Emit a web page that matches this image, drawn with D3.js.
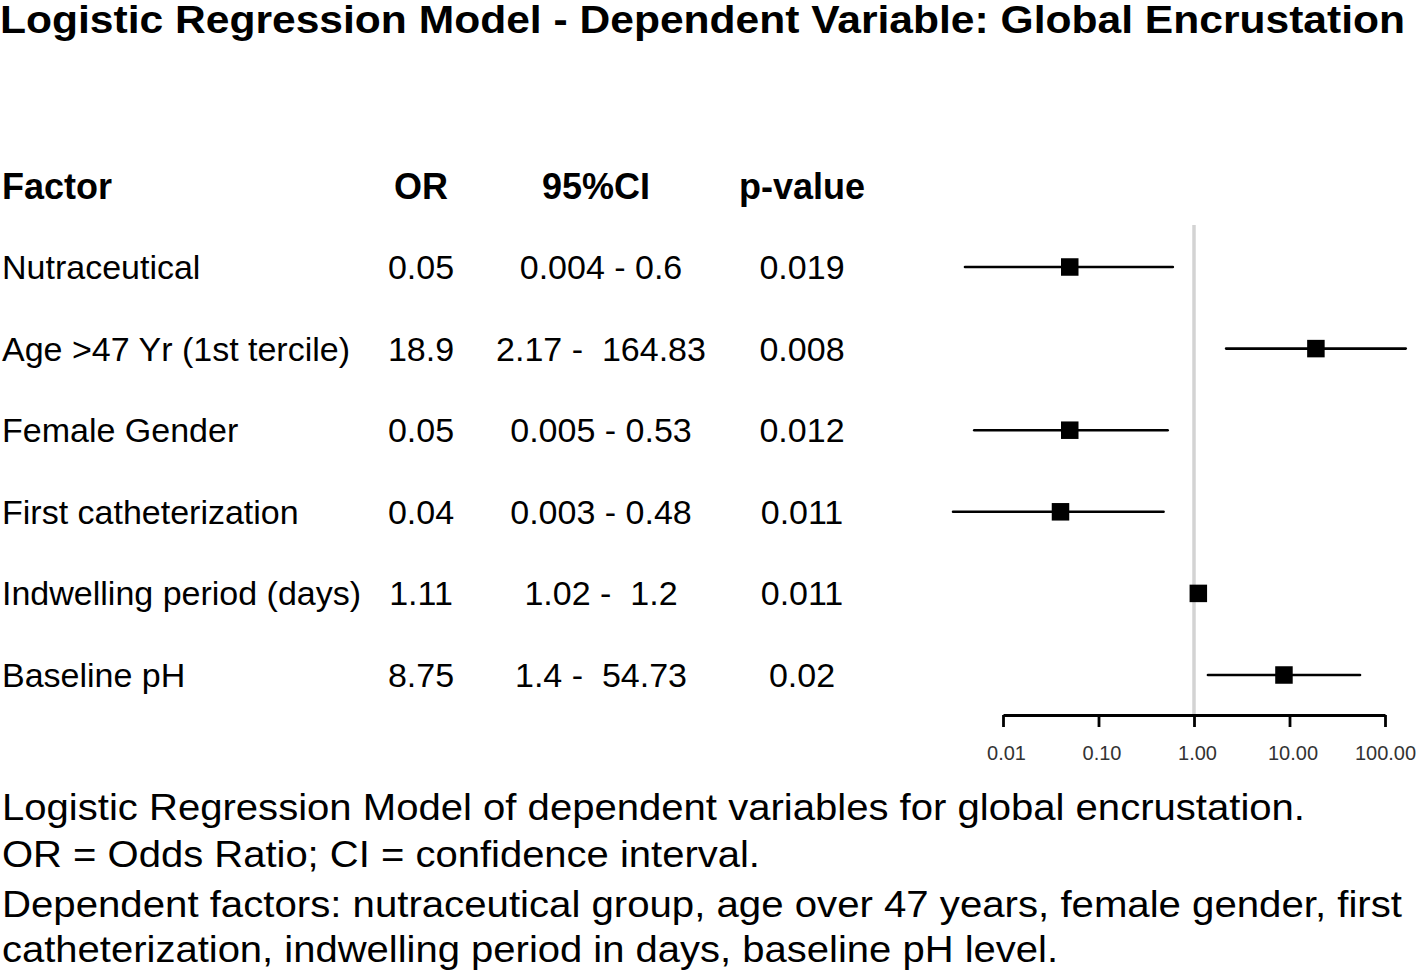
<!DOCTYPE html>
<html>
<head>
<meta charset="utf-8">
<script src="https://cdn.jsdelivr.net/npm/d3@7"></script>
<style>
  html, body { margin: 0; padding: 0; background: #fff; }
  svg { display: block; font-family: "Liberation Sans", Arial, sans-serif; }
</style>
</head>
<body>
<svg id="chart" width="1418" height="973"></svg>
<script>
// ---- data ----
const factors = ["Nutraceutical", "Age >47 Yr (1st tercile)", "Female Gender", "First catheterization", "Indwelling period (days)", "Baseline pH"];
const oddsRatios = [0.05, 18.9, 0.05, 0.04, 1.11, 8.75];
const ciLow = [0.004, 2.17, 0.005, 0.003, 1.02, 1.4];
const ciHigh = [0.6, 164.83, 0.53, 0.48, 1.2, 54.73];
const ciLabels = ["0.004 - 0.6", "2.17 -  164.83", "0.005 - 0.53", "0.003 - 0.48", "1.02 -  1.2", "1.4 -  54.73"];
const pValues = ["0.019", "0.008", "0.012", "0.011", "0.011", "0.02"];
const headers = ["Factor", "OR", "95%CI", "p-value"];
const axisTicks = [0.01, 0.1, 1, 10, 100];
const axisTickLabels = ["0.01", "0.10", "1.00", "10.00", "100.00"];
const titleText = "Logistic Regression Model - Dependent Variable: Global Encrustation";
const footnotes = [
  "Logistic Regression Model of dependent variables for global encrustation.",
  "OR = Odds Ratio; CI = confidence interval.",
  "Dependent factors: nutraceutical group, age over 47 years, female gender, first",
  "catheterization, indwelling period in days, baseline pH level."
];

const svg = d3.select("#chart");

// title
svg.append("text")
  .attr("x", 0).attr("y", 33)
  .attr("font-size", 38).attr("font-weight", "bold")
  .attr("textLength", 1405).attr("lengthAdjust", "spacingAndGlyphs")
  .text(titleText);

// scales
const x = d3.scaleLog().domain([0.01, 100]).range([1003, 1385]);
const y = d3.scalePoint().domain(factors).range([267, 675]);

// table headers
const colX = { factor: 2, or: 421, ci: 601, p: 802 };
const headerY = 199;
const hdr = svg.append("g").attr("font-size", 36).attr("font-weight", "bold");
hdr.append("text").attr("x", colX.factor).attr("y", headerY).text(headers[0]);
hdr.append("text").attr("x", colX.or).attr("y", headerY).attr("text-anchor", "middle").text(headers[1]);
hdr.append("text").attr("x", 596).attr("y", headerY).attr("text-anchor", "middle").text(headers[2]);
hdr.append("text").attr("x", colX.p).attr("y", headerY).attr("text-anchor", "middle").text(headers[3]);

// table rows
const rows = svg.append("g").attr("font-size", 34).style("white-space", "pre");
factors.forEach((f, i) => {
  const by = y(f) + 12;
  rows.append("text").attr("x", colX.factor).attr("y", by).text(f);
  rows.append("text").attr("x", colX.or).attr("y", by).attr("text-anchor", "middle").text(String(oddsRatios[i]));
  rows.append("text").attr("x", colX.ci).attr("y", by).attr("text-anchor", "middle").attr("xml:space", "preserve").text(ciLabels[i]);
  rows.append("text").attr("x", colX.p).attr("y", by).attr("text-anchor", "middle").text(pValues[i]);
});

// reference line at OR = 1
svg.append("line")
  .attr("x1", x(1)).attr("x2", x(1))
  .attr("y1", 225).attr("y2", 715)
  .attr("stroke", "#d3d3d3").attr("stroke-width", 3.5);

// CI lines
svg.append("g").selectAll("line")
  .data(factors)
  .join("line")
  .attr("x1", (d, i) => x(ciLow[i]))
  .attr("x2", (d, i) => x(ciHigh[i]))
  .attr("y1", d => y(d)).attr("y2", d => y(d))
  .attr("stroke", "#000").attr("stroke-width", 2.6)
  .attr("stroke-linecap", "round");

// point markers
const sq = 17.5;
svg.append("g").selectAll("rect")
  .data(factors)
  .join("rect")
  .attr("x", (d, i) => x(oddsRatios[i]) - sq / 2)
  .attr("y", d => y(d) - sq / 2)
  .attr("width", sq).attr("height", sq)
  .attr("fill", "#000");

// axis
const axis = d3.axisBottom(x)
  .tickValues(axisTicks)
  .tickFormat((d, i) => axisTickLabels[i])
  .tickSize(12)
  .tickSizeOuter(0)
  .tickPadding(19);
const ax = svg.append("g").attr("transform", "translate(0,715)").call(axis);
ax.select(".domain").attr("stroke", "#000").attr("stroke-width", 2.8);
ax.selectAll(".tick line").attr("stroke", "#000").attr("stroke-width", 2.8);
ax.selectAll(".tick text")
  .attr("font-size", 20)
  .attr("font-family", "Liberation Sans, Arial, sans-serif")
  .attr("fill", "#333")
  .attr("dx", (d, i) => i === axisTicks.length - 1 ? 0 : 3);

// footnotes
const footBase = [820, 867, 917, 962];
const footWidths = [1303, 758, 1400, 1056];
footnotes.forEach((t, i) => {
  svg.append("text")
    .attr("x", 2).attr("y", footBase[i])
    .attr("font-size", 37)
    .attr("textLength", footWidths[i]).attr("lengthAdjust", "spacingAndGlyphs")
    .text(t);
});
</script>
</body>
</html>
